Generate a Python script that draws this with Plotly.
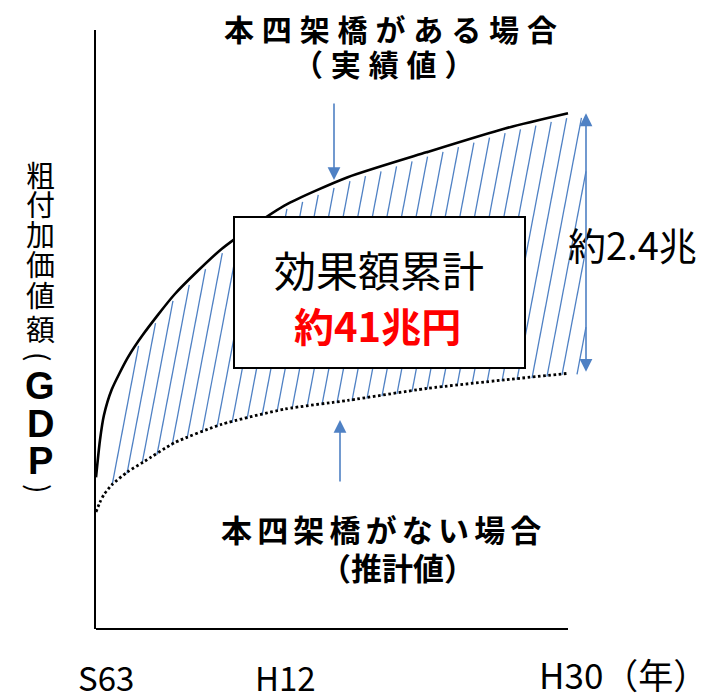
import numpy as np
import plotly.graph_objects as go

# ---- data -------------------------------------------------------------
# Years from S63 (1988) to H30 (2018)
years = [1988, 1988.25, 1988.5, 1989, 1990, 1991, 1993, 1996, 2000, 2004, 2009, 2014, 2018]
# Gross value added with the Honshu-Shikoku bridges (actual), trillion yen
gdp_with_bridges = [1.40, 1.74, 1.97, 2.21, 2.50, 2.72, 3.09, 3.51, 3.91, 4.17, 4.40, 4.62, 4.76]
# Gross value added without the bridges (estimate), trillion yen
gdp_without_bridges = [1.08, 1.17, 1.24, 1.33, 1.45, 1.54, 1.72, 1.89, 2.03, 2.11, 2.22, 2.30, 2.36]

tick_years = [1988, 2000, 2018]
tick_labels = ["S63", "H12", "H30（年）"]

gap_label = "約2.4兆"
total_title = "効果額累計"
total_label = "約41兆円"
title_with = "本四架橋がある場合"
note_with = "（実績値）"
title_without = "本四架橋がない場合"
note_without = "（推計値）"
y_title_chars = ["粗", "付", "加", "価", "値", "額", "(", "G", "D", "P", ")"]

# ---- geometry -----------------------------------------------------------
W, H = 718, 700
PL, PR, PT, PB = 96, 600, 30, 629          # plot area in page pixels
XPX = 472 / 30                              # pixels per year
YPX = 260 / 2.4                             # pixels per trillion yen
X0 = years[0]
X1 = X0 + (PR - PL) / XPX
Y1 = (PB - PT) / YPX

FONT = "Noto Sans CJK JP"
BLUE = "#4f81c4"


def dx(px):
    """page x pixel -> data x"""
    return X0 + (px - PL) / XPX


def dy(py):
    """page y pixel -> data y"""
    return (PB - py) / YPX


def sx(px):
    """page x pixel -> paper x"""
    return (px - PL) / (PR - PL)


def sy(py):
    """page y pixel -> paper y"""
    return (PB - py) / (PB - PT)


# ---- hatching between the two paths -----------------------------------
yr = np.array(years, dtype=float)
hi = np.array(gdp_with_bridges, dtype=float)
lo = np.array(gdp_without_bridges, dtype=float)
arrow_x = years[-1] + 18 / XPX
slant = 0.19 * YPX / XPX                    # years per trillion along a hatch line

hx, hy = [], []
b = dx(112)
while b <= arrow_x:
    y0 = np.interp(b, yr, lo) - 1 / YPX
    t = np.linspace(0, 5, 4000)
    lx = b + slant * t
    ly = y0 + t
    ok = (ly <= np.interp(lx, yr, hi) - 4.5 / YPX) & (lx <= arrow_x)
    bad = np.where(~ok)[0]
    k = bad[0] - 1 if len(bad) else len(t) - 1
    if k > 0:
        hx += [b, lx[k], None]
        hy += [y0, ly[k], None]
    b += 15 / XPX

fig = go.Figure()
fig.add_trace(go.Scatter(x=hx, y=hy, mode="lines",
                         line=dict(color=BLUE, width=1.3),
                         hoverinfo="skip", showlegend=False))
fig.add_trace(go.Scatter(x=years, y=gdp_with_bridges, mode="lines",
                         line=dict(color="black", width=2.6, shape="spline", smoothing=0.6),
                         hoverinfo="skip", showlegend=False))
fig.add_trace(go.Scatter(x=years, y=gdp_without_bridges, mode="lines",
                         line=dict(color="black", width=2.8, dash="2.6px,2.6px",
                                   shape="spline", smoothing=0.6),
                         hoverinfo="skip", showlegend=False))

shapes = [
    # x axis line, ending at H30
    dict(type="line", xref="x", yref="paper", x0=X0, x1=years[-1], y0=0, y1=0,
         line=dict(color="black", width=2.2), layer="above"),
    # total effect box
    dict(type="rect", xref="paper", yref="paper",
         x0=sx(234), x1=sx(525), y0=sy(217), y1=sy(368),
         fillcolor="white", line=dict(color="black", width=2), layer="above"),
]

ann = []
sp_wide = "\u2009\u200a"
sp_narrow = "\u2006"

def text(s, px, py, size, color="black", bold=False, anchor="center", family=FONT, angle=0):
    ann.append(dict(text=f"<b>{s}</b>" if bold else s, xref="paper", yref="paper",
                    x=sx(px), y=sy(py), xanchor=anchor, yanchor="middle", textangle=angle,
                    showarrow=False, font=dict(family=family, size=size, color=color)))

text(sp_wide.join(title_with), 390, 28, 30, bold=True)
text(sp_wide.join(note_with), 384, 63, 30, bold=True)
text(sp_narrow.join(title_without), 381, 528, 31, bold=True)
text(note_without, 397, 566, 31, bold=True)
text(total_title, 379, 268, 42)
text(total_label, 377, 325, 40, color="#ff0000", bold=True)
text(gap_label, 566, 243, 38, anchor="left")

# vertical y-axis title, one glyph per row (brackets turned for vertical writing)
y_rows = [174, 203, 233, 263, 294, 328, 356, 386, 424, 461, 488]
for ch, py in zip(y_title_chars, y_rows):
    if ch in "GDP":
        text(f"<b>{ch}</b>", 40, py, 38, family="Liberation Sans")
    elif ch in "()":
        text(ch, 40, py, 28, angle=90)
    else:
        text(ch, 40, py, 29)

# time labels under the axis
tick_px = [(106, 677.5), (285, 677.5), (537, 673.5)]
for (tx, ty), lab, yv in zip(tick_px, tick_labels, tick_years):
    if lab.startswith("H30"):
        text(lab, tx, ty, 35, anchor="left")
    else:
        text(lab, tx, ty, 33)

# pointer arrows
def arrow(x_head, y_head, x_tail, y_tail, both=False):
    a = dict(text="", xref="x", yref="y", axref="x", ayref="y",
             x=x_head, y=y_head, ax=x_tail, ay=y_tail, showarrow=True,
             arrowhead=2, arrowsize=1.6, arrowwidth=1.6, arrowcolor=BLUE, standoff=0)
    if both:
        a.update(arrowside="end+start", startarrowhead=2, startarrowsize=1.6, startstandoff=0)
    ann.append(a)

arrow(dx(334), dy(180), dx(334), dy(102))
arrow(dx(340), dy(420), dx(340), dy(483))
arrow(arrow_x, gdp_with_bridges[-1], arrow_x, gdp_without_bridges[-1], both=True)

fig.update_layout(
    width=W, height=H,
    margin=dict(l=PL, r=W - PR, t=PT, b=H - PB, pad=0),
    paper_bgcolor="white", plot_bgcolor="white",
    showlegend=False,
    xaxis=dict(range=[X0, X1], showgrid=False, zeroline=False, showticklabels=False,
               ticks="", showline=False, fixedrange=True),
    yaxis=dict(range=[0, Y1], showgrid=False, zeroline=False, showticklabels=False,
               ticks="", showline=True, linecolor="black", linewidth=2.2, fixedrange=True),
    shapes=shapes,
    annotations=ann,
)

fig.write_html("out.html", config={"displayModeBar": False})
